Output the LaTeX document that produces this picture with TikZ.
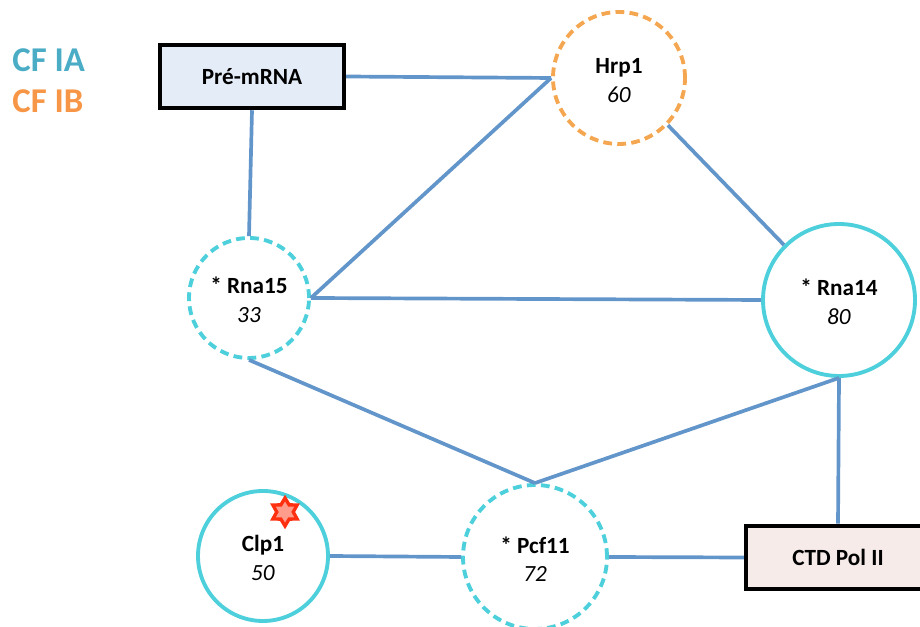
\documentclass[tikz,border=0pt]{standalone}
\usepackage{fontspec}
\setmainfont{Carlito}
\usetikzlibrary{shapes.geometric}
\definecolor{iacolor}{HTML}{4DD0DB}
\definecolor{ibcolor}{HTML}{F5A650}
\definecolor{linkcolor}{HTML}{6295C9}
\definecolor{premrnafill}{HTML}{E3ECF7}
\definecolor{ctdfill}{HTML}{F6EBE9}
\definecolor{cfiatext}{HTML}{4BACC6}
\definecolor{cfibtext}{HTML}{F79646}
\definecolor{markline}{HTML}{FF3010}
\definecolor{markfill}{HTML}{FF9C8C}
\newcommand{\protlabel}[2]{\rule{0pt}{11.5pt}\textbf{#1}\\\textit{#2}}
\tikzset{
    prot/.style={circle, line width=2.2pt, align=center, inner sep=0pt, font=\fontsize{13.2}{16}\selectfont},
    ia/.style={prot, draw=iacolor},
    iadash/.style={ia, dash pattern=on 5pt off 3pt},
    ib/.style={prot, draw=ibcolor, dash pattern=on 5pt off 3pt},
    substrate/.style={draw=black, line width=2.3pt, minimum width=3.68cm, minimum height=1.27cm, inner sep=0pt, font=\fontsize{13.2}{15}\selectfont\bfseries},
    link/.style={draw=linkcolor, line width=2.1pt},
    legend/.style={anchor=west, inner sep=0pt, font=\fontsize{19.8}{22}\selectfont\bfseries}
}

\begin{document}
\begin{tikzpicture}[scale=1]
    \useasboundingbox (0,0) rectangle (18.4,12.54);

    \node[legend, text=cfiatext] (cfia) at (0.24, 11.34) {CF IA};
    \node[legend, text=cfibtext] (cfib) at (0.24, 10.52) {CF IB};

    \node[substrate, fill=premrnafill] (premrna) at (5.04, 11.01) {Pré-mRNA};
    \node[substrate, fill=ctdfill] (ctd) at (16.76, 1.39) {CTD Pol II};

    \node[ib, minimum size=2.64cm] (hrp) at (12.38, 10.98) {\protlabel{Hrp1}{60}};
    \node[iadash, minimum size=2.4cm] (rnaa) at (4.98, 6.58) {\protlabel{* Rna15}{33}};
    \node[ia, minimum size=3.04cm] (rnab) at (16.78, 6.54) {\protlabel{* Rna14}{80}};
    \node[ia, minimum size=2.6cm] (clp) at (5.26, 1.42) {\protlabel{Clp1}{50}};
    \node[iadash, minimum size=2.88cm] (pcf) at (10.7, 1.4) {\protlabel{* Pcf11}{72}};

    \node[star, star points=6, star point ratio=1.7, draw=markline, fill=markfill, line width=1.9pt,
        minimum size=0.56cm, inner sep=0pt] (mark) at (5.7, 2.3) {};

    \draw[link] (premrna.east) -- (hrp.west);
    \draw[link] (premrna.south) -- (rnaa.north);
    \draw[link] (rnaa.east) -- (hrp.west);
    \draw[link] (rnaa.east) -- (rnab.west);
    \draw[link] (hrp.-44) -- (rnab.135);
    \draw[link] (rnaa.south) -- (pcf.north);
    \draw[link] (rnab.south) -- (pcf.north);
    \draw[link] (rnab.south) -- (ctd.north);
    \draw[link] (clp.east) -- (pcf.west);
    \draw[link] (pcf.east) -- (ctd.west);
\end{tikzpicture}
\end{document}
